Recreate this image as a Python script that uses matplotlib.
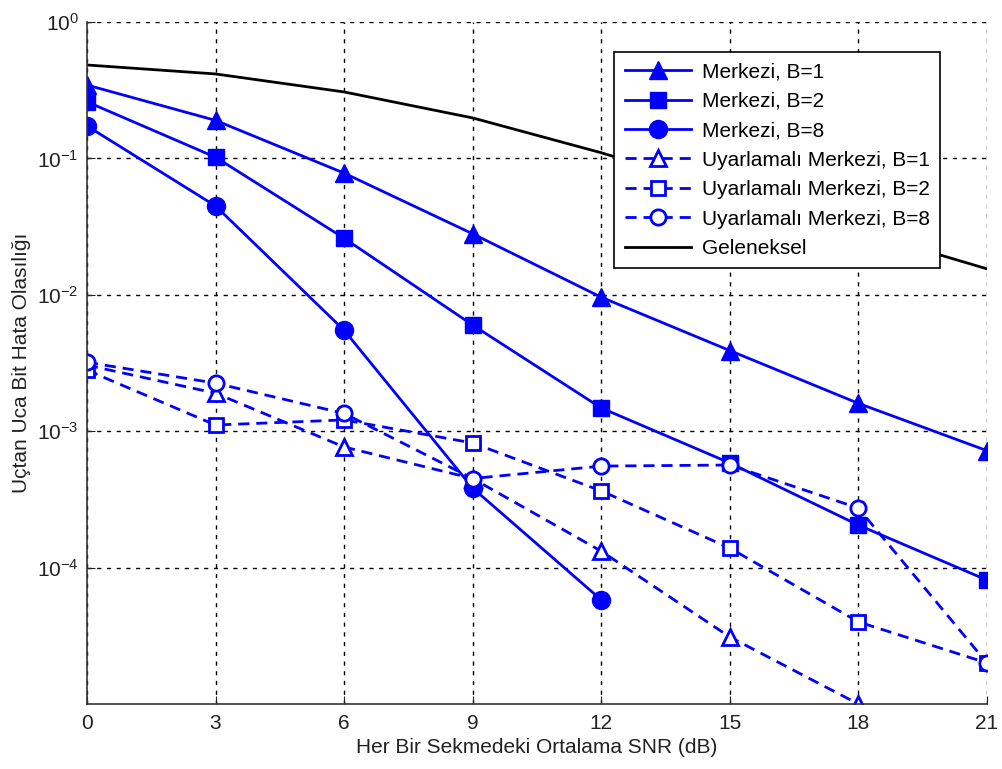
import matplotlib
matplotlib.use("Agg")
import matplotlib.pyplot as plt
from matplotlib.ticker import FixedLocator, NullLocator

plt.rcParams['font.family'] = ['Liberation Sans', 'DejaVu Sans']
plt.rcParams['mathtext.fontset'] = 'custom'
plt.rcParams['mathtext.rm'] = 'Liberation Sans'
plt.rcParams['mathtext.it'] = 'Liberation Sans'

snr = [0, 3, 6, 9, 12, 15, 18, 21]

merkezi_b1 = [0.345, 0.19, 0.078, 0.028, 0.0096, 0.0039, 0.0016, 7.2e-4]
merkezi_b2 = [0.26, 0.102, 0.026, 0.006, 0.00148, 5.85e-4, 2.05e-4, 8.1e-5]
snr_b8 = [0, 3, 6, 9, 12]
merkezi_b8 = [0.173, 0.0448, 0.0055, 3.83e-4, 5.8e-5]

snr_u1 = [0, 3, 6, 9, 12, 15, 18]
uyar_b1 = [3.05e-3, 1.9e-3, 7.66e-4, 4.5e-4, 1.32e-4, 3.1e-5, 1.0e-5]
uyar_b2 = [2.8e-3, 1.11e-3, 1.21e-3, 8.2e-4, 3.65e-4, 1.39e-4, 4.0e-5, 2.0e-5]
uyar_b8 = [3.2e-3, 2.25e-3, 1.35e-3, 4.5e-4, 5.55e-4, 5.65e-4, 2.73e-4, 2.0e-5]

geleneksel = [0.484, 0.416, 0.307, 0.198, 0.11, 0.057, 0.0295, 0.0155]

labels = ['Merkezi, B=1', 'Merkezi, B=2', 'Merkezi, B=8',
          'Uyarlamalı Merkezi, B=1', 'Uyarlamalı Merkezi, B=2',
          'Uyarlamalı Merkezi, B=8', 'Geleneksel']

FS = 15

fig = plt.figure(figsize=(10.03, 7.69), dpi=100)
ax = fig.add_axes([0.0867, 0.0845, 0.8973, 0.8869])

blue = '#0000ff'
dash = (0, (4, 2.5))
ax.plot(snr, merkezi_b1, '-', color=blue, lw=2, marker='^', ms=13, mfc=blue, mec=blue, label=labels[0])
ax.plot(snr, merkezi_b2, '-', color=blue, lw=2, marker='s', ms=11, mfc=blue, mec=blue, label=labels[1])
ax.plot(snr_b8, merkezi_b8, '-', color=blue, lw=2, marker='o', ms=13, mfc=blue, mec=blue, label=labels[2])
ax.plot(snr_u1, uyar_b1, linestyle=dash, color=blue, lw=2, marker='^', ms=12, mfc='white', mec=blue, mew=2, label=labels[3])
ax.plot(snr, uyar_b2, linestyle=dash, color=blue, lw=2, marker='s', ms=10, mfc='white', mec=blue, mew=2, label=labels[4])
ax.plot(snr, uyar_b8, linestyle=dash, color=blue, lw=2, marker='o', ms=11, mfc='white', mec=blue, mew=2, label=labels[5])
ax.plot(snr, geleneksel, '-', color='black', lw=2, label=labels[6])

ax.set_yscale('log')
ax.set_xlim(0, 21)
ax.set_ylim(1e-5, 1)
ax.xaxis.set_major_locator(FixedLocator(snr))
ax.yaxis.set_major_locator(FixedLocator([1e-4, 1e-3, 1e-2, 1e-1, 1e0]))
ax.yaxis.set_minor_locator(NullLocator())
ax.set_yticklabels(['$10^{-4}$', '$10^{-3}$', '$10^{-2}$', '$10^{-1}$', '$10^{0}$'])
ax.tick_params(direction='in', length=6, labelsize=FS, colors='#222222', pad=7)
ax.tick_params(axis='y', pad=6)

for side in ['top', 'right']:
    ax.spines[side].set_visible(False)
for side in ['left', 'bottom']:
    ax.spines[side].set_color('#333333')
    ax.spines[side].set_linewidth(1.2)

ax.grid(True, which='major', color='black', linestyle=(0, (3, 4)), linewidth=1)
ax.set_axisbelow(True)

ax.set_xlabel('Her Bir Sekmedeki Ortalama SNR (dB)', fontsize=FS, color='#222222', labelpad=4)
ax.set_ylabel('Uçtan Uca Bit Hata Olasılığı', fontsize=FS, color='#222222', labelpad=4)

leg = ax.legend(loc='upper right', bbox_to_anchor=(0.948, 0.956), borderaxespad=0,
                fontsize=FS, handlelength=3.2, labelspacing=0.5, fancybox=False,
                framealpha=1, edgecolor='black', borderpad=0.5, handletextpad=0.5)
leg.get_frame().set_linewidth(1.2)

fig.savefig('out.png', dpi=100)
